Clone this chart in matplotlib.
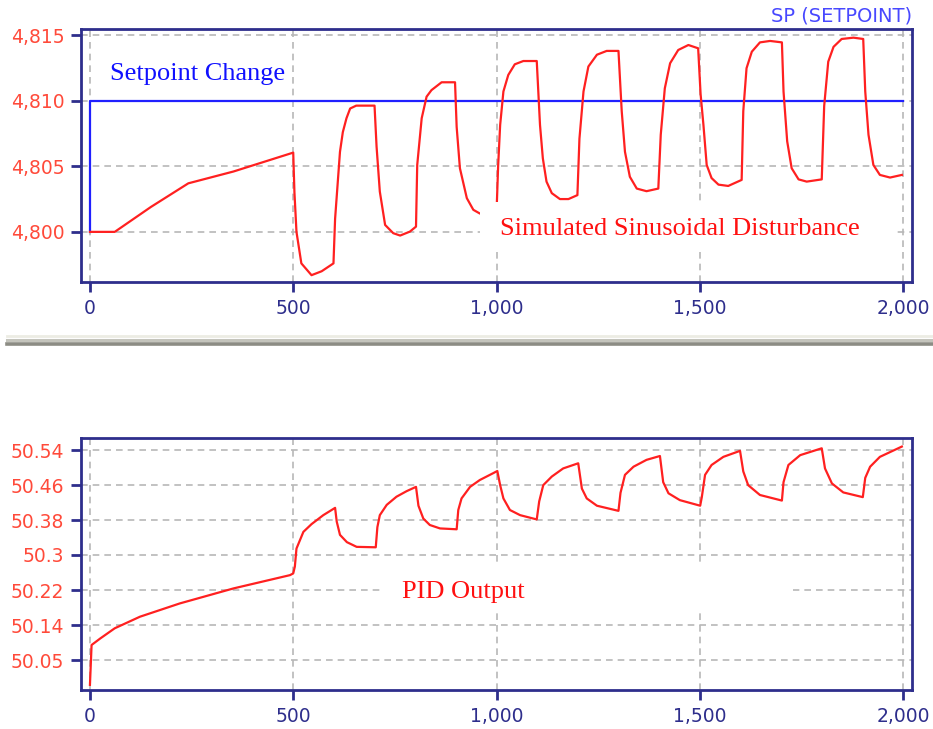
import numpy as np
import matplotlib
matplotlib.use("Agg")
import matplotlib.pyplot as plt
from matplotlib.patches import Rectangle
from matplotlib.lines import Line2D

# ── data ──────────────────────────────────────────────────────────────────────
sp_t = [0, 0, 2000]
sp_v = [4800, 4810, 4810]

pv_t = [0, 61, 150, 242, 353, 500, 503, 508, 520, 545, 570, 599,
        603, 615, 622, 631, 640, 655, 700, 705, 713, 726, 746, 763, 787, 802,
        805, 816, 828, 840, 865, 898, 902, 910, 927, 943, 959, 980, 1000,
        1004, 1009, 1017, 1029, 1045, 1066, 1099, 1107, 1114, 1123, 1136, 1156, 1177, 1199,
        1204, 1214, 1226, 1247, 1271, 1300, 1308, 1316, 1328, 1345, 1369, 1398,
        1404, 1414, 1427, 1447, 1472, 1496, 1502, 1509, 1517, 1529, 1546, 1570, 1603,
        1607, 1615, 1628, 1648, 1673, 1702, 1706, 1715, 1726, 1743, 1763, 1800,
        1806, 1816, 1829, 1849, 1878, 1902, 1907, 1915, 1927, 1943, 1968, 1997]
pv_v = [4800, 4800, 4801.9, 4803.7, 4804.6, 4806.04, 4803.0, 4800.0, 4797.6, 4796.7, 4797.0, 4797.6,
        4801.0, 4806.1, 4807.6, 4808.66, 4809.4, 4809.62, 4809.62, 4806.5, 4803.07, 4800.53, 4799.9, 4799.72, 4800.02, 4800.4,
        4805.1, 4808.66, 4810.3, 4810.8, 4811.4, 4811.4, 4808.0, 4804.85, 4802.57, 4801.68, 4801.4, 4801.3, 4801.4,
        4805.0, 4808.15, 4810.7, 4811.96, 4812.77, 4813.02, 4813.02, 4808.15, 4805.6, 4803.83, 4802.95, 4802.5, 4802.5, 4802.8,
        4807.1, 4810.7, 4812.6, 4813.5, 4813.79, 4813.79, 4809.2, 4806.1, 4804.2, 4803.3, 4803.1, 4803.3,
        4807.4, 4810.94, 4812.85, 4813.86, 4814.24, 4813.99, 4810.5, 4808.15, 4805.1, 4804.1, 4803.6, 4803.5, 4803.96,
        4809.2, 4812.47, 4813.73, 4814.44, 4814.55, 4814.44, 4810.7, 4806.9, 4804.85, 4804.0, 4803.83, 4804.0,
        4809.6, 4812.97, 4814.1, 4814.7, 4814.8, 4814.7, 4810.7, 4807.4, 4805.1, 4804.34, 4804.14, 4804.34]

out_t = [0, 2, 4, 25, 61, 123, 221, 353, 492, 500, 504, 508, 525, 545, 574, 603,
         607, 615, 632, 656, 703,
         707, 713, 730, 754, 779, 802,
         808, 820, 836, 861, 902,
         906, 914, 935, 959, 992, 1002,
         1009, 1017, 1033, 1058, 1099,
         1105, 1115, 1136, 1164, 1201,
         1210, 1222, 1247, 1300,
         1305, 1316, 1337, 1369, 1402,
         1410, 1423, 1451, 1501,
         1505, 1513, 1529, 1558, 1599,
         1607, 1619, 1648, 1702,
         1706, 1718, 1747, 1800,
         1808, 1825, 1853, 1901,
         1907, 1919, 1943, 1997]
out_v = [49.992, 50.038, 50.085, 50.10, 50.124, 50.151, 50.182, 50.217, 50.248, 50.252, 50.268, 50.31, 50.349, 50.367, 50.388, 50.405,
         50.373, 50.342, 50.325, 50.314, 50.313,
         50.36, 50.388, 50.412, 50.431, 50.444, 50.454,
         50.41, 50.38, 50.365, 50.357, 50.355,
         50.40, 50.427, 50.454, 50.47, 50.486, 50.491,
         50.458, 50.427, 50.40, 50.388, 50.378,
         50.42, 50.458, 50.478, 50.497, 50.509,
         50.45, 50.427, 50.41, 50.398,
         50.44, 50.482, 50.501, 50.517, 50.526,
         50.465, 50.439, 50.423, 50.41,
         50.43, 50.482, 50.505, 50.524, 50.538,
         50.49, 50.458, 50.435, 50.422,
         50.465, 50.505, 50.528, 50.544,
         50.497, 50.462, 50.441, 50.43,
         50.475, 50.501, 50.524, 50.548]

x_ticks = [0, 500, 1000, 1500, 2000]
x_labels = ["0", "500", "1,000", "1,500", "2,000"]
top_ticks = [4800, 4805, 4810, 4815]
top_labels = ["4,800", "4,805", "4,810", "4,815"]
bot_ticks = list(np.linspace(50.05, 50.54, 7))
bot_labels = ["50.05", "50.14", "50.22", "50.3", "50.38", "50.46", "50.54"]

NAVY = "#2e2e8c"
RED = "#ff2020"
TICKRED = "#ff4a3a"
GRID = "#b8b8b8"

W, H = 933, 729
fig = plt.figure(figsize=(W / 100, H / 100), dpi=100)
fig.patch.set_facecolor("white")


def px_rect(l, t, r, b):
    return [l / W, 1 - b / H, (r - l) / W, (b - t) / H]


def style(ax, yticks, ylabels):
    ax.set_xlim(-22, 2022)
    ax.set_xticks(x_ticks)
    ax.set_xticklabels(x_labels)
    ax.set_yticks(yticks)
    ax.set_yticklabels(ylabels)
    for s in ax.spines.values():
        s.set_color(NAVY)
        s.set_linewidth(2)
    ax.tick_params(axis="both", direction="out", length=7, width=2, color=NAVY,
                   labelsize=13.5, pad=5)
    ax.tick_params(axis="x", labelcolor=NAVY)
    ax.tick_params(axis="y", labelcolor=TICKRED)
    ax.grid(True, color=GRID, linestyle=(0, (4, 3)), linewidth=1.2, zorder=0)
    ax.set_axisbelow(True)


# ── top panel ─────────────────────────────────────────────────────────────────
ax1 = fig.add_axes(px_rect(81, 29, 912, 282))
ax1.set_ylim(4796.18, 4815.46)
style(ax1, top_ticks, top_labels)
ax1.plot(sp_t, sp_v, color="#2020ff", lw=1.6, zorder=2)
ax1.plot(pv_t, pv_v, color=RED, lw=1.6, zorder=2)
ax1.add_patch(Rectangle((959, 4798.88), 1016, 3.43, facecolor="white",
                        edgecolor="none", zorder=3))
ax1.text(49, 4811.57, "Setpoint Change", family="Liberation Serif", fontsize=19,
         color="#1010ff", va="baseline", zorder=4)
ax1.text(1008, 4799.76, "Simulated Sinusoidal Disturbance", family="Liberation Serif",
         fontsize=19, color="#ff1010", va="baseline", zorder=4)
fig.text(912 / W, 1 - 16 / H, "SP (SETPOINT)", ha="right", va="center",
         fontsize=14, color="#4848ff")

# ── bottom panel ──────────────────────────────────────────────────────────────
ax2 = fig.add_axes(px_rect(81, 438, 912, 690))
ax2.set_ylim(49.98, 50.568)
style(ax2, bot_ticks, bot_labels)
ax2.plot(out_t, out_v, color=RED, lw=1.6, zorder=2)
box = Rectangle((720, 50.167), 1009, 0.105, facecolor="white",
                edgecolor="none", zorder=3)
ax2.add_patch(box)
ax2.text(767, 50.195, "PID Output", family="Liberation Serif", fontsize=19,
         color="#ff1010", va="baseline", zorder=4)

# ── separator bar between panels ──────────────────────────────────────────────
for y, c, lw in [(336, "#ecece4", 2), (340, "#c4c4bc", 2.2), (344, "#8c8c84", 2.6)]:
    fig.add_artist(Line2D([7 / W, 1], [1 - y / H, 1 - y / H], color=c, lw=lw,
                          transform=fig.transFigure))

fig.savefig("out.png", dpi=100, facecolor="white")
